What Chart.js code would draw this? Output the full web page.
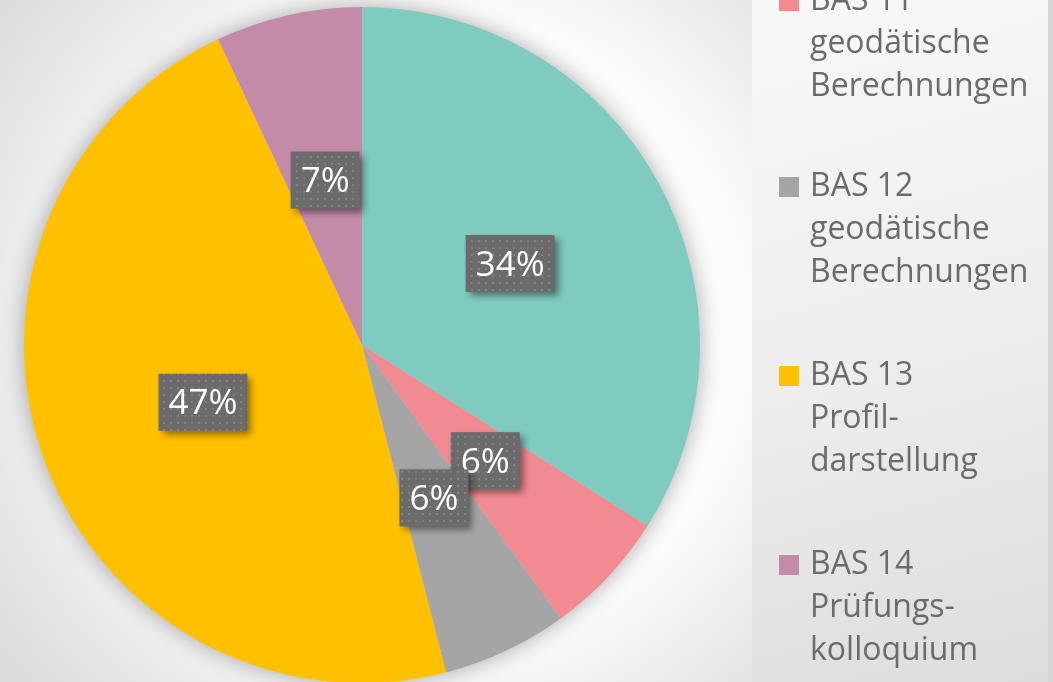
<!DOCTYPE html>
<html>
<head>
<meta charset="utf-8">
<script src="https://cdn.jsdelivr.net/npm/chart.js@4/dist/chart.umd.min.js"></script>
<style>
  html, body { margin: 0; padding: 0; }
  body {
    width: 1053px; height: 682px; overflow: hidden; position: relative;
    background: radial-gradient(circle at 430px 330px, #ffffff 0px, #fbfbfb 320px, #ececec 420px, #dedede 520px, #d8d8d8 640px);
  }
  #legendPanel {
    position: absolute; left: 752px; top: 0; width: 296px; height: 682px;
    background: linear-gradient(165deg, #f8f8f8 0%, #eeeeee 50%, #dddddd 100%);
  }
  #edge {
    position: absolute; left: 1048px; top: 0; width: 5px; height: 682px; background: #d6d6d6;
  }
  #wrap { position: absolute; left: 0; top: 0; width: 1053px; height: 700px; }
</style>
</head>
<body>
<div id="legendPanel"></div>
<div id="edge"></div>
<div id="wrap"><canvas id="pieChart"></canvas></div>
<script>
const categories = [
  ['BAS 10'],
  ['BAS 11', 'geodätische', 'Berechnungen'],
  ['BAS 12', 'geodätische', 'Berechnungen'],
  ['BAS 13', 'Profil-', 'darstellung'],
  ['BAS 14', 'Prüfungs-', 'kolloquium']
];
const shares = [34, 6, 6, 47, 7];
const sliceColors = ['#80cbbf', '#f28a92', '#a5a5a5', '#ffc000', '#c48ba9'];

// dotted fill used by the value boxes
const dotTile = document.createElement('canvas');
dotTile.width = 7;
dotTile.height = 7;
const dotCtx = dotTile.getContext('2d');
dotCtx.fillStyle = 'rgba(255,255,255,0.15)';
dotCtx.fillRect(2, 2, 2, 2);

const pieShadow = {
  id: 'pieShadow',
  beforeDatasetsDraw(chart) {
    const arc = chart.getDatasetMeta(0).data[0];
    if (!arc) return;
    const ctx = chart.ctx;
    ctx.save();
    ctx.shadowColor = 'rgba(0,0,0,0.32)';
    ctx.shadowBlur = 22;
    ctx.fillStyle = '#cccccc';
    ctx.beginPath();
    ctx.arc(arc.x, arc.y, arc.outerRadius, 0, Math.PI * 2);
    ctx.fill();
    ctx.restore();
  }
};

const valueBoxes = {
  id: 'valueBoxes',
  afterDatasetsDraw(chart) {
    const ctx = chart.ctx;
    const pattern = ctx.createPattern(dotTile, 'repeat');
    const total = shares.reduce((a, b) => a + b, 0);
    ctx.save();
    ctx.font = '35px "Open Sans"';
    ctx.textAlign = 'center';
    ctx.textBaseline = 'middle';
    chart.getDatasetMeta(0).data.forEach((arc, i) => {
      const p = arc.getCenterPoint();
      const text = Math.round(shares[i] / total * 100) + '%';
      const w = ctx.measureText(text).width + 20;
      const h = 57;
      const x = p.x - w / 2;
      const y = p.y - h / 2;
      ctx.save();
      ctx.shadowColor = 'rgba(0,0,0,0.45)';
      ctx.shadowBlur = 7;
      ctx.shadowOffsetX = 4;
      ctx.shadowOffsetY = 4;
      ctx.fillStyle = '#6b6b6b';
      ctx.fillRect(x, y, w, h);
      ctx.restore();
      ctx.fillStyle = pattern;
      ctx.fillRect(x, y, w, h);
      ctx.fillStyle = '#ffffff';
      ctx.fillText(text, p.x, p.y + 2);
    });
    ctx.restore();
  }
};

const sideLegend = {
  id: 'sideLegend',
  afterDraw(chart) {
    const ctx = chart.ctx;
    const baselines = [-180, 10, 196, 385, 574];
    ctx.save();
    ctx.font = '32px "Open Sans"';
    ctx.textBaseline = 'alphabetic';
    categories.forEach((lines, i) => {
      const base = baselines[i];
      ctx.fillStyle = sliceColors[i];
      ctx.fillRect(779, base - 19, 20, 20);
      ctx.fillStyle = '#6b6b6b';
      lines.forEach((line, j) => ctx.fillText(line, 810, base + j * 43));
    });
    ctx.restore();
  }
};

new Chart(document.getElementById('pieChart'), {
  type: 'pie',
  data: {
    labels: categories.map((c) => c.join(' ')),
    datasets: [{
      data: shares,
      backgroundColor: sliceColors,
      borderWidth: 0
    }]
  },
  options: {
    responsive: true,
    maintainAspectRatio: false,
    animation: false,
    layout: { padding: { left: 24, right: 353, top: 7, bottom: 17 } },
    plugins: {
      legend: { display: false },
      tooltip: { enabled: false }
    }
  },
  plugins: [pieShadow, valueBoxes, sideLegend]
});
</script>
</body>
</html>
